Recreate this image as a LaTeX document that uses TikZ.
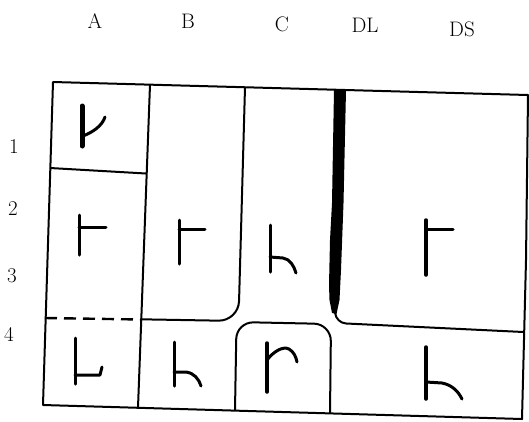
\documentclass[tikz,border=0pt]{standalone}
\begin{document}
\begin{tikzpicture}[x=1pt,y=-1pt,
  frame/.style={line width=2pt, line join=round},
  glyph/.style={line width=3pt, line cap=round, line join=round},
  lab/.style={font=\fontsize{21}{21}\selectfont, inner sep=0pt},
  num/.style={font=\fontsize{21}{21}\selectfont, inner sep=0pt}]
\useasboundingbox (0,0) rectangle (529,421);
% column labels
\node[lab] (colA) at (95,21) {A};
\node[lab] (colB) at (188,21) {B};
\node[lab] (colC) at (282,24) {C};
\node[lab] (colDL) at (365,25) {DL};
\node[lab] (colDS) at (462,29) {DS};
% row labels
\node[num] (row1) at (14,147) {1};
\node[num] (row2) at (13,209) {2};
\node[num] (row3) at (12,276) {3};
\node[num] (row4) at (9,334) {4};
% outer frame
\draw[frame] (53,82) -- (528,95) -- (526,260) -- (522,419) -- (43,405) -- cycle;
% A/B divider
\draw[frame] (150,84.7) -- (138,407.6);
% A1/A2 line
\draw[frame] (50,168) -- (146,173.5);
% dashed A3/A4 line
\draw[frame, line width=2.4pt, dash pattern=on 12pt off 7pt] (45,318) -- (141,319.5);
% B/C divider with rounded bottom into B bottom line
\draw[frame, rounded corners=20pt] (245,87.3) -- (238.5,321) -- (141,319.3);
% C4 rounded box
\draw[frame, rounded corners=17pt] (235,410.3) -- (236.5,322) -- (331,324) -- (330,412.9);
% DS bottom line
\draw[frame, rounded corners=10pt] (334,300) -- (336,323) -- (523.5,332);
% DL thick bar
\fill (334,89.8) -- (346,90.1) -- (343.5,203) -- (341,270) -- (339.5,300) -- (336.5,314)
  -- (332,313) -- (329.5,300) -- (329,285) -- (330,240) -- (332,203) -- cycle;
% glyphs
% A1
\draw[glyph, line width=5pt] (82,106) -- (82,146);
\draw[glyph] (83,136) .. controls (93,132) and (102,126) .. (105,117);
% A2
\draw[glyph] (79,215) -- (79,255);
\draw[glyph] (79,227) -- (106,227);
% B2
\draw[glyph] (179,220) -- (179,264);
\draw[glyph] (179,229) -- (205,229);
% C3
\draw[glyph] (270,225) -- (270,272);
\draw[glyph] (270,257) -- (283,258) .. controls (290,259) and (294,266) .. (296,273);
% DS2
\draw[glyph, line width=3.5pt] (426,220) -- (426,275);
\draw[glyph] (426,229) -- (453,229);
% A4
\draw[glyph] (75,338) -- (75,384);
\draw[glyph] (75,375) -- (100,375) -- (102,367);
% B4
\draw[glyph] (174,342) -- (174,386);
\draw[glyph] (174,372) -- (186,372) .. controls (194,373) and (199,379) .. (201,386);
% C4
\draw[glyph, line width=3.5pt] (267,343) -- (267,392);
\draw[glyph] (267,360) .. controls (274,351) and (283,346) .. (289,349) .. controls (294,352) and (296,357) .. (297,362);
% DS4
\draw[glyph, line width=3.5pt] (426,347) -- (426,399);
\draw[glyph] (426,382) -- (442,383) .. controls (452,385) and (458,391) .. (462,399);
\end{tikzpicture}
\end{document}
